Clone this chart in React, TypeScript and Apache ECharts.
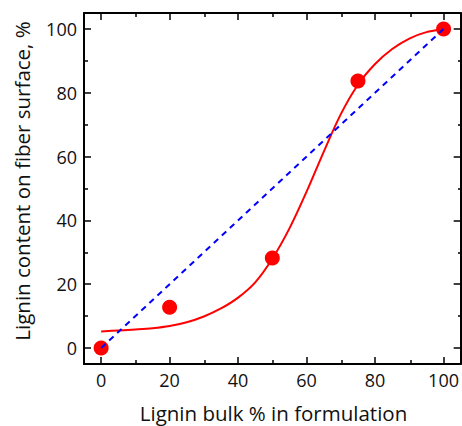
import React, { useEffect, useRef } from "react";
import * as echarts from "echarts";

// Measured points
const pointX = [0, 20, 50, 75, 100];
const pointY = [0, 12.8, 28.2, 83.7, 100];

// Fitted (sigmoid-like) red curve
const fitX = [0, 5, 10, 15, 20, 25, 30, 35, 40, 45, 50, 55, 60, 65, 70, 75, 80, 85, 90, 95, 100];
const fitY = [5.2, 5.5, 5.8, 6.2, 6.9, 8.1, 9.9, 12.4, 15.8, 20.6, 28, 37.5, 49, 61.5, 73.3, 82.5, 89, 93.7, 97, 99, 100];

// Blue dashed reference line
const refX = [0, 100];
const refY = [0, 100];

const majorTicks = [0, 20, 40, 60, 80, 100];
const minorTicks = [10, 30, 50, 70, 90];

const xTitle = "Lignin bulk % in formulation";
const yTitle = "Lignin content on fiber surface, %";

const FONT = "Open Sans";

export default function App() {
  const ref = useRef<HTMLDivElement>(null);
  useEffect(() => {
    if (!ref.current) return;
    const chart = echarts.init(ref.current, undefined, { renderer: "svg" });
    const gridRect = { left: 84, top: 13, width: 379.5, height: 351 };
    const lineStyle = { color: "#000", width: 2 };
    const mkX = (gridIndex: number, position: string, ticks: number[], len: number, showLine: boolean, showLabel: boolean) => ({
      type: "value",
      gridIndex,
      position,
      min: -5,
      max: 105,
      axisLine: { show: showLine, onZero: false, lineStyle },
      axisTick: { show: true, inside: true, length: len, customValues: ticks, lineStyle: { color: "#000", width: 1.5 } },
      axisLabel: {
        show: showLabel,
        customValues: ticks,
        fontFamily: FONT,
        fontSize: 18,
        color: "#111",
        margin: 7,
      },
      splitLine: { show: false },
    });

    // Smooth curve through the read points (Catmull-Rom in pixel space via the axes' scales)
    const renderFit = (_params: any, api: any) => {
      const pts = fitX.map((x, i) => api.coord([x, fitY[i]]));
      const n = pts.length;
      let d = `M${pts[0][0]},${pts[0][1]}`;
      for (let i = 0; i < n - 1; i++) {
        const p0 = pts[Math.max(i - 1, 0)];
        const p1 = pts[i];
        const p2 = pts[i + 1];
        const p3 = pts[Math.min(i + 2, n - 1)];
        const c1x = p1[0] + (p2[0] - p0[0]) / 6;
        const c1y = p1[1] + (p2[1] - p0[1]) / 6;
        const c2x = p2[0] - (p3[0] - p1[0]) / 6;
        const c2y = p2[1] - (p3[1] - p1[1]) / 6;
        d += ` C${c1x},${c1y} ${c2x},${c2y} ${p2[0]},${p2[1]}`;
      }
      return {
        type: "path",
        shape: { pathData: d },
        style: { stroke: "#ff0000", lineWidth: 2, fill: "none" },
      };
    };

    chart.setOption({
      animation: false,
      grid: [
        { ...gridRect, containLabel: false },
        { ...gridRect, containLabel: false },
      ],
      xAxis: [
        mkX(0, "bottom", majorTicks, 7, true, true),
        mkX(0, "top", majorTicks, 7, true, false),
        mkX(1, "bottom", minorTicks, 4, false, false),
        mkX(1, "top", minorTicks, 4, false, false),
      ],
      yAxis: [
        mkX(0, "left", majorTicks, 7, true, true),
        mkX(0, "right", majorTicks, 7, true, false),
        mkX(1, "left", minorTicks, 4, false, false),
        mkX(1, "right", minorTicks, 4, false, false),
      ],
      graphic: [
        {
          type: "text",
          x: 273.5,
          y: 413,
          style: {
            text: xTitle,
            fontFamily: FONT,
            fontSize: 20.5,
            fill: "#111",
            align: "center",
            verticalAlign: "middle",
          },
        },
        {
          type: "text",
          x: 22,
          y: 181,
          rotation: Math.PI / 2,
          style: {
            text: yTitle,
            fontFamily: FONT,
            fontSize: 20.5,
            fill: "#111",
            align: "center",
            verticalAlign: "middle",
          },
        },
      ],
      series: [
        {
          type: "custom",
          xAxisIndex: 0,
          yAxisIndex: 0,
          data: [[fitX[0], fitY[0]]],
          renderItem: renderFit,
          silent: true,
          z: 2,
        },
        {
          type: "scatter",
          xAxisIndex: 0,
          yAxisIndex: 0,
          data: pointX.map((x, i) => [x, pointY[i]]),
          symbol: "circle",
          symbolSize: 15,
          itemStyle: { color: "#ff0000", opacity: 1 },
          z: 3,
        },
        {
          type: "line",
          xAxisIndex: 0,
          yAxisIndex: 0,
          data: refX.map((x, i) => [x, refY[i]]),
          showSymbol: false,
          symbol: "none",
          lineStyle: { color: "#0000ff", width: 2, type: [6, 5] },
          z: 4,
        },
      ],
    });
    return () => chart.dispose();
  }, []);
  return (
    <div
      ref={ref}
      style={{ position: "fixed", left: 0, top: 0, width: 462, height: 426, background: "#fff" }}
    />
  );
}
